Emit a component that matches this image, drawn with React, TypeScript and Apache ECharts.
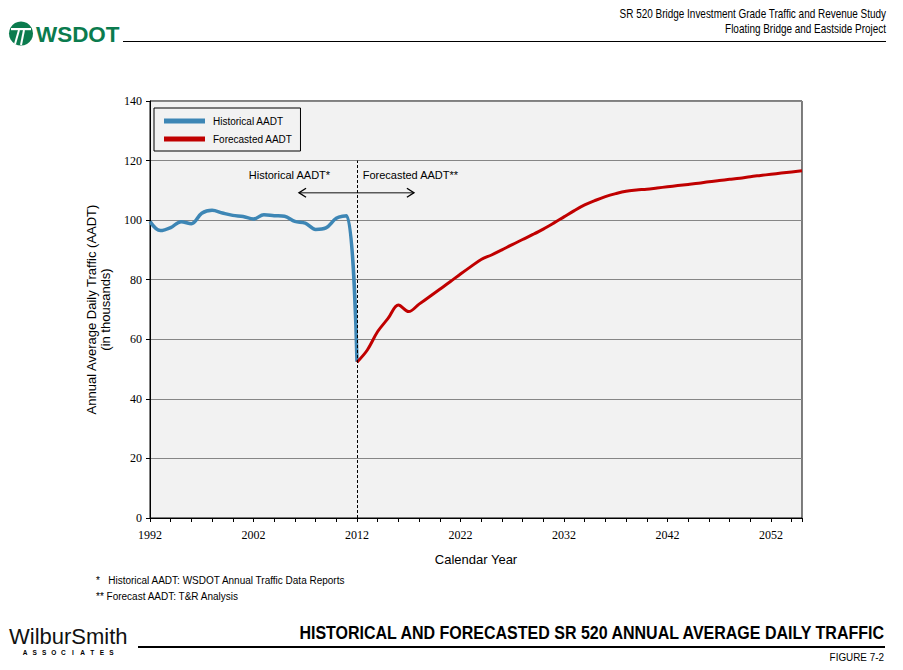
import * as echarts from 'echarts';
import { useEffect, useRef } from 'react';

// AADT in thousands, one value per calendar year
const historicalStartYear = 1992;
const historicalAadt = [
  99.5, 96.5, 97.5, 99.5, 98.8, 102.3, 103.3, 102.4, 101.6, 101.2, 100.4,
  101.8, 101.5, 101.3, 99.6, 99.0, 96.9, 97.4, 100.6, 101.5, 52.5,
];
const forecastStartYear = 2012;
const forecastAadt = [
  52.3, 56.4, 62.6, 67.0, 71.5, 69.3, 71.8, 74.3, 76.8, 79.3, 81.9, 84.4,
  86.8, 88.3, 90.0, 91.8, 93.5, 95.2, 97.0, 99.0, 101.1, 103.2, 105.1, 106.6,
  107.9, 108.9, 109.7, 110.1, 110.4, 110.8, 111.2, 111.6, 112.0, 112.4, 112.9,
  113.3, 113.7, 114.1, 114.6, 115.0, 115.4, 115.8, 116.2, 116.6,
];
const labelledYears = [1992, 2002, 2012, 2022, 2032, 2042, 2052];
const seriesNames = ['Historical AADT', 'Forecasted AADT'];

// split between history and forecast, and the annotation above it
const splitYear = 2012;
const splitTop = 120;
const arrowSpan = [2006.4, 2017.5];
const arrowLevel = 109.2;
const annotationLevel = 115;

const sans = '"Liberation Sans", Arial, sans-serif';
const serif = '"Liberation Serif", "Times New Roman", serif';
const green = '#0B7B4E';

const toPoints = (start: number, values: number[]) => values.map((v, i) => [start + i, v]);

export default function App() {
  const ref = useRef<HTMLDivElement>(null);

  useEffect(() => {
    const el = ref.current;
    if (!el) return undefined;
    const chart = echarts.init(el, undefined, { renderer: 'svg' });

    chart.setOption({
      animation: false,
      backgroundColor: '#fff',
      grid: {
        left: 150, top: 101, width: 652, height: 417,
        show: true, backgroundColor: '#F2F2F2', borderColor: '#000', borderWidth: 1,
      },
      legend: {
        left: 154, top: 108, orient: 'vertical',
        icon: 'rect', itemWidth: 41, itemHeight: 5, itemGap: 8,
        padding: [8, 8, 7, 10],
        borderColor: '#000', borderWidth: 1,
        textStyle: { fontFamily: sans, fontSize: 10, color: '#000', padding: [0, 0, 0, 3] },
        data: seriesNames,
      },
      xAxis: {
        type: 'value', min: 1992, max: 2055, interval: 2,
        name: 'Calendar Year', nameLocation: 'middle', nameGap: 35,
        nameTextStyle: { fontFamily: sans, fontSize: 13, color: '#000' },
        axisLine: { lineStyle: { color: '#000' } },
        axisTick: { length: 4, lineStyle: { color: '#000' } },
        splitLine: { show: false },
        axisLabel: {
          fontFamily: serif, fontSize: 12, color: '#000', margin: 11,
          formatter: (v: number) => (labelledYears.includes(v) ? String(v) : ''),
        },
      },
      yAxis: {
        type: 'value', min: 0, max: 140, interval: 20,
        name: 'Annual Average Daily Traffic (AADT)\n(in thousands)',
        nameLocation: 'middle', nameRotate: 90, nameGap: 38,
        nameTextStyle: { fontFamily: sans, fontSize: 13, color: '#000', lineHeight: 14 },
        axisLine: { show: true, lineStyle: { color: '#000' } },
        axisTick: { show: true, length: 4, lineStyle: { color: '#000' } },
        splitLine: { lineStyle: { color: '#868686' } },
        axisLabel: { fontFamily: serif, fontSize: 12, color: '#000', margin: 8 },
      },
      series: [
        {
          name: seriesNames[0], type: 'line', smooth: 0.35, showSymbol: false,
          color: '#3D86B5', lineStyle: { width: 3.5, color: '#3D86B5' },
          data: toPoints(historicalStartYear, historicalAadt),
        },
        {
          name: seriesNames[1], type: 'line', smooth: 0.35, showSymbol: false,
          color: '#C00000', lineStyle: { width: 3, color: '#C00000' },
          data: toPoints(forecastStartYear, forecastAadt),
          markLine: {
            silent: true, symbol: 'none', label: { show: false },
            lineStyle: { type: [3, 2], color: '#000', width: 1 },
            data: [[{ coord: [splitYear, 0] }, { coord: [splitYear, splitTop] }]],
          },
        },
      ],
    });

    const px = (x: number, y: number) => chart.convertToPixel({ gridIndex: 0 }, [x, y]) as number[];
    const a = px(arrowSpan[0], arrowLevel);
    const b = px(arrowSpan[1], arrowLevel);
    const histLabel = px(splitYear - 2.6, annotationLevel);
    const foreLabel = px(splitYear + 0.55, annotationLevel);

    // condensed text: no narrow face is installed, so squeeze horizontally
    const text = (x: number, y: number, t: string, size: number, align = 'left', squeeze = 1, extra = {}) => ({
      type: 'text', x, y, scaleX: squeeze, silent: true,
      style: { text: t, fontFamily: sans, fontSize: size, fill: '#000', align, verticalAlign: 'middle', ...extra },
    });

    const associates = 'ASSOCIATES'.split('').map((ch, i) => text(25 + i * 9.6, 652.5, ch, 6.5, 'center', 1, { fontWeight: 'bold' }));

    chart.setOption({
      graphic: [
        // arrow between the two annotations
        { type: 'line', shape: { x1: a[0], y1: a[1], x2: b[0], y2: b[1] }, style: { stroke: '#5A5A5A', lineWidth: 1.6 } },
        { type: 'polyline', shape: { points: [[a[0] + 7, a[1] - 4.5], [a[0], a[1]], [a[0] + 7, a[1] + 4.5]] }, style: { stroke: '#000', lineWidth: 1.4, fill: 'none' } },
        { type: 'polyline', shape: { points: [[b[0] - 7, b[1] - 4.5], [b[0], b[1]], [b[0] - 7, b[1] + 4.5]] }, style: { stroke: '#000', lineWidth: 1.4, fill: 'none' } },
        text(histLabel[0], histLabel[1], 'Historical AADT*', 11, 'right'),
        text(foreLabel[0], foreLabel[1], 'Forecasted AADT**', 11),

        // WSDOT header
        { type: 'circle', shape: { cx: 21, cy: 33.5, r: 12 }, style: { fill: green } },
        { type: 'rect', shape: { x: 11, y: 28, width: 20, height: 2.2 }, style: { fill: '#fff' } },
        { type: 'line', shape: { x1: 19, y1: 30, x2: 15, y2: 44 }, style: { stroke: '#fff', lineWidth: 2 } },
        { type: 'line', shape: { x1: 24, y1: 30, x2: 21, y2: 45 }, style: { stroke: '#fff', lineWidth: 2 } },
        text(36, 34.5, 'WSDOT', 22, 'left', 1.02, { fill: green, fontWeight: 'bold' }),
        { type: 'line', shape: { x1: 123, y1: 41.5, x2: 886, y2: 41.5 }, style: { stroke: '#000', lineWidth: 1 } },
        text(886, 14, 'SR 520 Bridge Investment Grade Traffic and Revenue Study', 12, 'right', 0.83),
        text(886, 29, 'Floating Bridge and Eastside Project', 12, 'right', 0.83),

        // source notes
        text(96, 580, '*   Historical AADT: WSDOT Annual Traffic Data Reports', 11, 'left', 0.91),
        text(96, 596, '** Forecast AADT: T&R Analysis', 11, 'left', 0.91),

        // footer
        text(9, 636.5, 'WilburSmith', 22, 'left', 1, { fill: '#111', lineHeight: 20 }),
        ...associates,
        { type: 'line', shape: { x1: 138, y1: 647, x2: 885, y2: 647 }, style: { stroke: '#000', lineWidth: 2 } },
        text(884, 633, 'HISTORICAL AND FORECASTED SR 520 ANNUAL AVERAGE DAILY TRAFFIC', 18, 'right', 0.89, { fontWeight: 'bold' }),
        text(884, 657, 'FIGURE 7-2', 11, 'right', 0.9),
      ],
    });

    return () => chart.dispose();
  }, []);

  return <div ref={ref} style={{ position: 'absolute', left: 0, top: 0, width: 903, height: 670, background: '#fff' }} />;
}
